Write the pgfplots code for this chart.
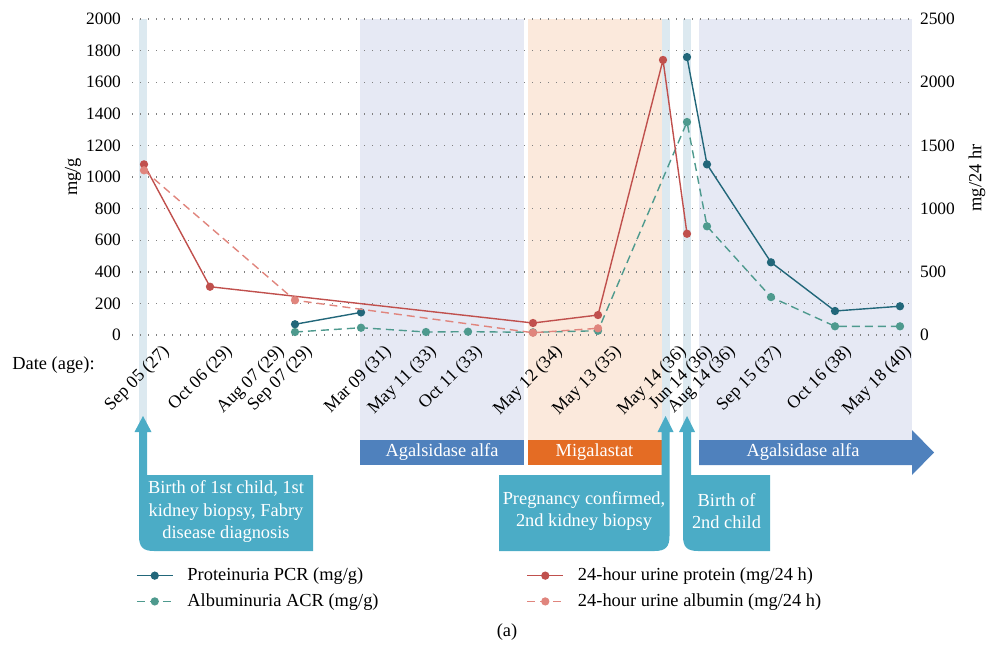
\documentclass[border=0pt]{standalone}
\usepackage{pgfplots}
\pgfplotsset{compat=1.18}
\usepackage{fontspec}
\setmainfont{Liberation Serif}
\definecolor{pcr}{HTML}{22677A}
\definecolor{acr}{HTML}{4E9A8E}
\definecolor{prot}{HTML}{C0504D}
\definecolor{alb}{HTML}{E0857D}
\definecolor{lav}{HTML}{E6E9F4}
\definecolor{peach}{HTML}{FBE9DC}
\definecolor{pale}{HTML}{DCE9F0}
\definecolor{callout}{HTML}{4BACC6}
\definecolor{agal}{HTML}{4F81BD}
\definecolor{miga}{HTML}{E46C24}
\pgfplotsset{
  base/.style={at={(66pt,-167.5pt)}, anchor=south west, scale only axis,
    width=390.5pt, height=158pt, xmin=132, xmax=913, ymin=0, clip=false,
    axis line style={draw=none}, major tick length=0pt, scaled y ticks=false,
    yticklabel style={/pgf/number format/1000 sep={}, /pgf/number format/assume math mode=true, font=\fontsize{8.7}{10}\selectfont},
    unbounded coords=jump},
  pcrstyle/.style={color=pcr, line width=0.7pt, mark=*, mark size=1.7pt, mark options={solid}},
  acrstyle/.style={color=acr, line width=0.7pt, dash pattern=on 4pt off 2.5pt, mark=*, mark size=1.7pt, mark options={solid}},
  protstyle/.style={color=prot, line width=0.7pt, mark=*, mark size=1.7pt, mark options={solid}},
  albstyle/.style={color=alb, line width=0.7pt, dash pattern=on 4pt off 2.5pt, mark=*, mark size=1.7pt, mark options={solid}},
}
\begin{document}
\begin{tikzpicture}[font=\fontsize{9.2}{11.25}\selectfont]
\useasboundingbox (0,0) rectangle (493.5pt,-324pt);
\begin{scope}[x=0.5pt,y=-0.5pt]
% background bands
\fill[pale] (139,19) rectangle (147,432);
\fill[lav] (360,19) rectangle (524,440);
\fill[peach] (528,19) rectangle (661.5,440);
\fill[pale] (661.5,19) rectangle (669.5,432);
\fill[pale] (683,19) rectangle (691,432);
\fill[lav] (699,19) rectangle (912,440);
\end{scope}

\begin{axis}[base, ymax=2000, ytick={0,200,...,2000},
  ymajorgrids, grid style={gray, line width=0.7pt, dash pattern=on 0.7pt off 3.3pt},
  yticklabel style={anchor=east, xshift=-2pt},
  xtick={170,233,285,313,392,437,483,563,622,687,713,736,782,852,912},
  xticklabels={Sep 05 (27),Oct 06 (29),Aug 07 (29),Sep 07 (29),Mar 09 (31),May 11 (33),Oct 11 (33),May 12 (34),May 13 (35),May 14 (36),Jun 14 (36),Aug 14 (36),Sep 15 (37),Oct 16 (38),May 18 (40)},
  xticklabel style={xshift=-4.5pt, yshift=-4pt, rotate=45, anchor=north east, inner sep=0pt, font=\fontsize{8.9}{10}\selectfont},
]
\addplot[pcrstyle] coordinates {(295,68) (361,143) (361,nan) (687,1759) (707,1080) (771,460) (835,152) (900,182)};
\addplot[acrstyle] coordinates {(295,19) (361,46) (426,19) (468,21) (533,17) (598,27) (687,1348) (707,688) (771,240) (835,55) (900,55)};
\end{axis}

\begin{axis}[base, ymax=2500, ytick={0,500,...,2500}, xtick=\empty,
  yticklabel pos=right, yticklabel style={anchor=west, xshift=0pt},
  legend columns=2, legend cell align=left,
  legend image code/.code={\draw[mark repeat=2,mark phase=2] plot coordinates {(0pt,0pt) (9pt,0pt) (18pt,0pt)};},
  legend style={draw=none, fill=none, at={(-0.003,-0.71)}, anchor=north west,
    font=\fontsize{9.2}{10}\selectfont, row sep=1pt,
    /tikz/every even column/.append style={column sep=72pt}},
]
\addlegendimage{pcrstyle}\addlegendentry{\hspace{5pt}Proteinuria PCR (mg/g)}
\addlegendimage{protstyle}\addlegendentry{\hspace{5pt}24-hour urine protein (mg/24 h)}
\addlegendimage{acrstyle}\addlegendentry{\hspace{5pt}Albuminuria ACR (mg/g)}
\addlegendimage{albstyle}\addlegendentry{\hspace{5pt}24-hour urine albumin (mg/24 h)}
\addplot[protstyle, forget plot] coordinates {(144,1350) (210,382) (533,95) (598,158) (663,2176) (687,801)};
\addplot[albstyle, forget plot] coordinates {(144,1303) (295,275) (533,18) (598,53)};
\end{axis}

\begin{scope}[x=0.5pt,y=-0.5pt]
% axis titles
\node[rotate=90] at (73,177) {mg/g};
\node[rotate=90] at (977,178) {mg/24 hr};
\node[anchor=west, inner sep=0pt] at (12,365) {Date (age):};

% therapy bars
\fill[agal] (360,440) rectangle (524,465);
\node[text=white] at (442,452.5) {Agalsidase alfa};
\fill[miga] (528,440) rectangle (661.5,465);
\node[text=white] at (594.5,452.5) {Migalastat};
\fill[agal] (699,440) -- (912,440) -- (912,430) -- (934,452.5) -- (912,475) -- (912,465) -- (699,465) -- cycle;
\node[text=white] at (803,452.5) {Agalsidase alfa};

% callouts
\fill[callout] (147,432) -- (151.5,432) -- (143,416) -- (134.5,432) -- (139,432) -- (139,536)
  .. controls (139,547) and (143,551) .. (154,551) -- (313,551) -- (313,475) -- (147,475) -- cycle;
\node[text=white, align=center] at (226,512) {Birth of 1st child, 1st\\kidney biopsy, Fabry\\disease diagnosis};
\fill[callout] (499,475) -- (661.5,475) -- (661.5,432) -- (657.5,432) -- (665.5,416) -- (673.5,432) -- (669.5,432)
  -- (669.5,536) .. controls (669.5,547) and (665.5,551) .. (654.5,551) -- (499,551) -- cycle;
\node[text=white, align=center] at (584,511) {Pregnancy confirmed,\\2nd kidney biopsy};
\fill[callout] (691,475) -- (770,475) -- (770,551) -- (698,551) .. controls (687,551) and (683,547) .. (683,536)
  -- (683,432) -- (679,432) -- (687,416) -- (695,432) -- (691,432) -- cycle;
\node[text=white, align=center] at (726.5,511) {Birth of\\2nd child};

\node at (507,632) {(a)};
\end{scope}
\end{tikzpicture}
\end{document}
